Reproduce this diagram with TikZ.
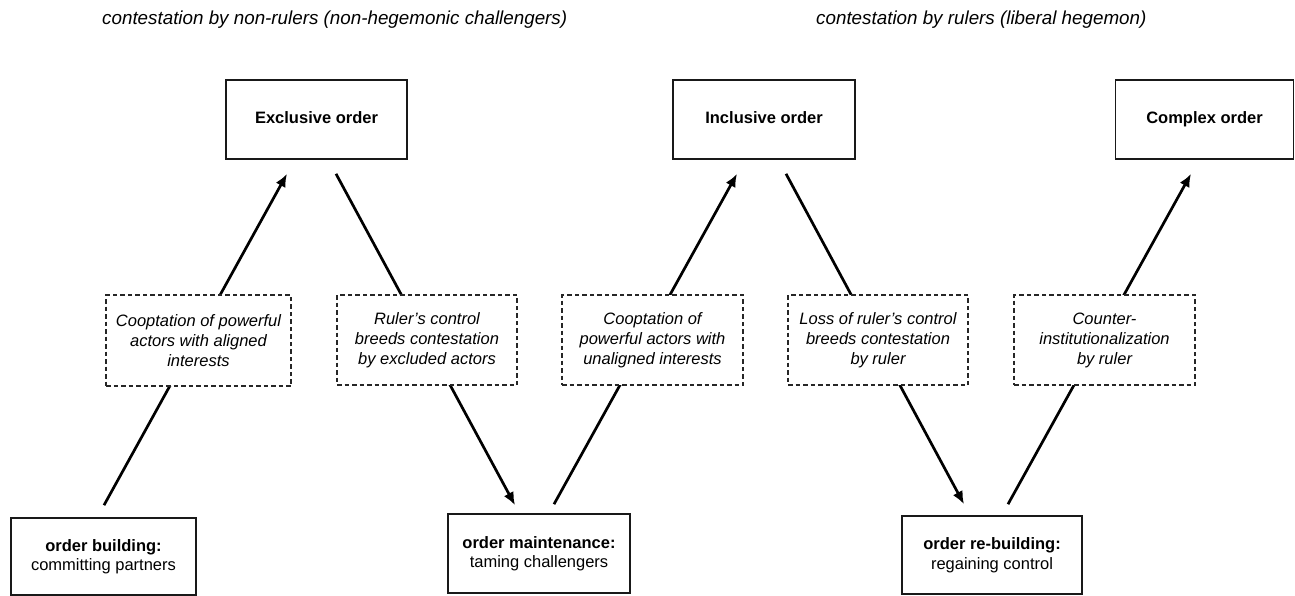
\documentclass[tikz,border=0pt]{standalone}
\usepackage{fontspec}
\setmainfont{Liberation Sans}
\usetikzlibrary{arrows.meta,backgrounds,calc}
\begin{document}
\begin{tikzpicture}[x=1pt,y=-1pt,
  orderbox/.style={draw=black!90, line width=1.6pt, fill=white, minimum width=181pt, minimum height=79pt, inner sep=0pt, text height=12pt, text depth=3.5pt, align=center, font=\fontsize{16.5}{19.5}\selectfont\bfseries},
  phasebox/.style={draw=black!90, line width=1.6pt, fill=white, minimum width=182pt, minimum height=78pt, inner sep=0pt, align=center, font=\fontsize{16.5}{19.5}\selectfont},
  mechbox/.style={draw=black!85, line width=1.3pt, dash pattern=on 4.5pt off 3pt, fill=white, minimum width=181pt, minimum height=91pt, inner sep=0pt, align=center, font=\fontsize{16.5}{20}\selectfont\itshape},
  titletext/.style={anchor=base west, inner sep=0pt, font=\fontsize{18.8}{22}\selectfont\itshape},
  flow/.style={line width=2.7pt, black, -{Latex[length=13pt,width=11pt]}}
]
\useasboundingbox (0,0) rectangle (1295,596);

\node[titletext] (t1) at (102,25) {contestation by non-rulers (non-hegemonic challengers)};
\node[titletext] (t2) at (816,25) {contestation by rulers (liberal hegemon)};

\node[orderbox] (excl) at (316.5,119.5) {Exclusive order};
\node[orderbox, minimum width=182pt] (incl) at (764,119.5) {Inclusive order};
\node[orderbox, minimum width=178pt] (compl) at (1204.5,119.5) {Complex order};

\node[phasebox, minimum width=185pt, minimum height=77pt] (build) at (103.5,556.5) {\textbf{order building:}\\committing partners};
\node[phasebox, minimum height=79pt] (maint) at (539,553.5) {\textbf{order maintenance:}\\taming challengers};
\node[phasebox, minimum width=180pt] (rebuild) at (992,555) {\textbf{order re-building:}\\regaining control};

\node[mechbox, minimum width=185pt] (m1) at (198.5,340.5) {Cooptation of powerful\\actors with aligned\\interests};
\node[mechbox, minimum width=180pt, minimum height=90pt] (m2) at (427,340) {Ruler's control\\breeds contestation\\by excluded actors};
\node[mechbox, minimum height=90pt] (m3) at (652.5,340) {Cooptation of\\powerful actors with\\unaligned interests};
\node[mechbox, minimum width=180pt, minimum height=90pt] (m4) at (878,340) {Loss of ruler's control\\breeds contestation\\by ruler};
\node[mechbox, minimum height=90pt] (m5) at (1104.5,340) {Counter-\\institutionalization\\by ruler};

\coordinate (a1s) at ($(build.north)+(0.5,-12)$);
\coordinate (a1e) at ($(excl.south)+(-29.5,14)$);
\coordinate (a2s) at ($(excl.south)+(19.5,14)$);
\coordinate (a2e) at ($(maint.north)+(-24,-8)$);
\coordinate (a3s) at ($(maint.north)+(15,-9)$);
\coordinate (a3e) at ($(incl.south)+(-27,14)$);
\coordinate (a4s) at ($(incl.south)+(22,14)$);
\coordinate (a4e) at ($(rebuild.north)+(-28,-11)$);
\coordinate (a5s) at ($(rebuild.north)+(16,-11)$);
\coordinate (a5e) at ($(compl.south)+(-13.5,14)$);

\begin{scope}[on background layer]
\draw[flow] (a1s) -- (a1e);
\draw[flow] (a2s) -- (a2e);
\draw[flow] (a3s) -- (a3e);
\draw[flow] (a4s) -- (a4e);
\draw[flow] (a5s) -- (a5e);
\end{scope}
\end{tikzpicture}
\end{document}
